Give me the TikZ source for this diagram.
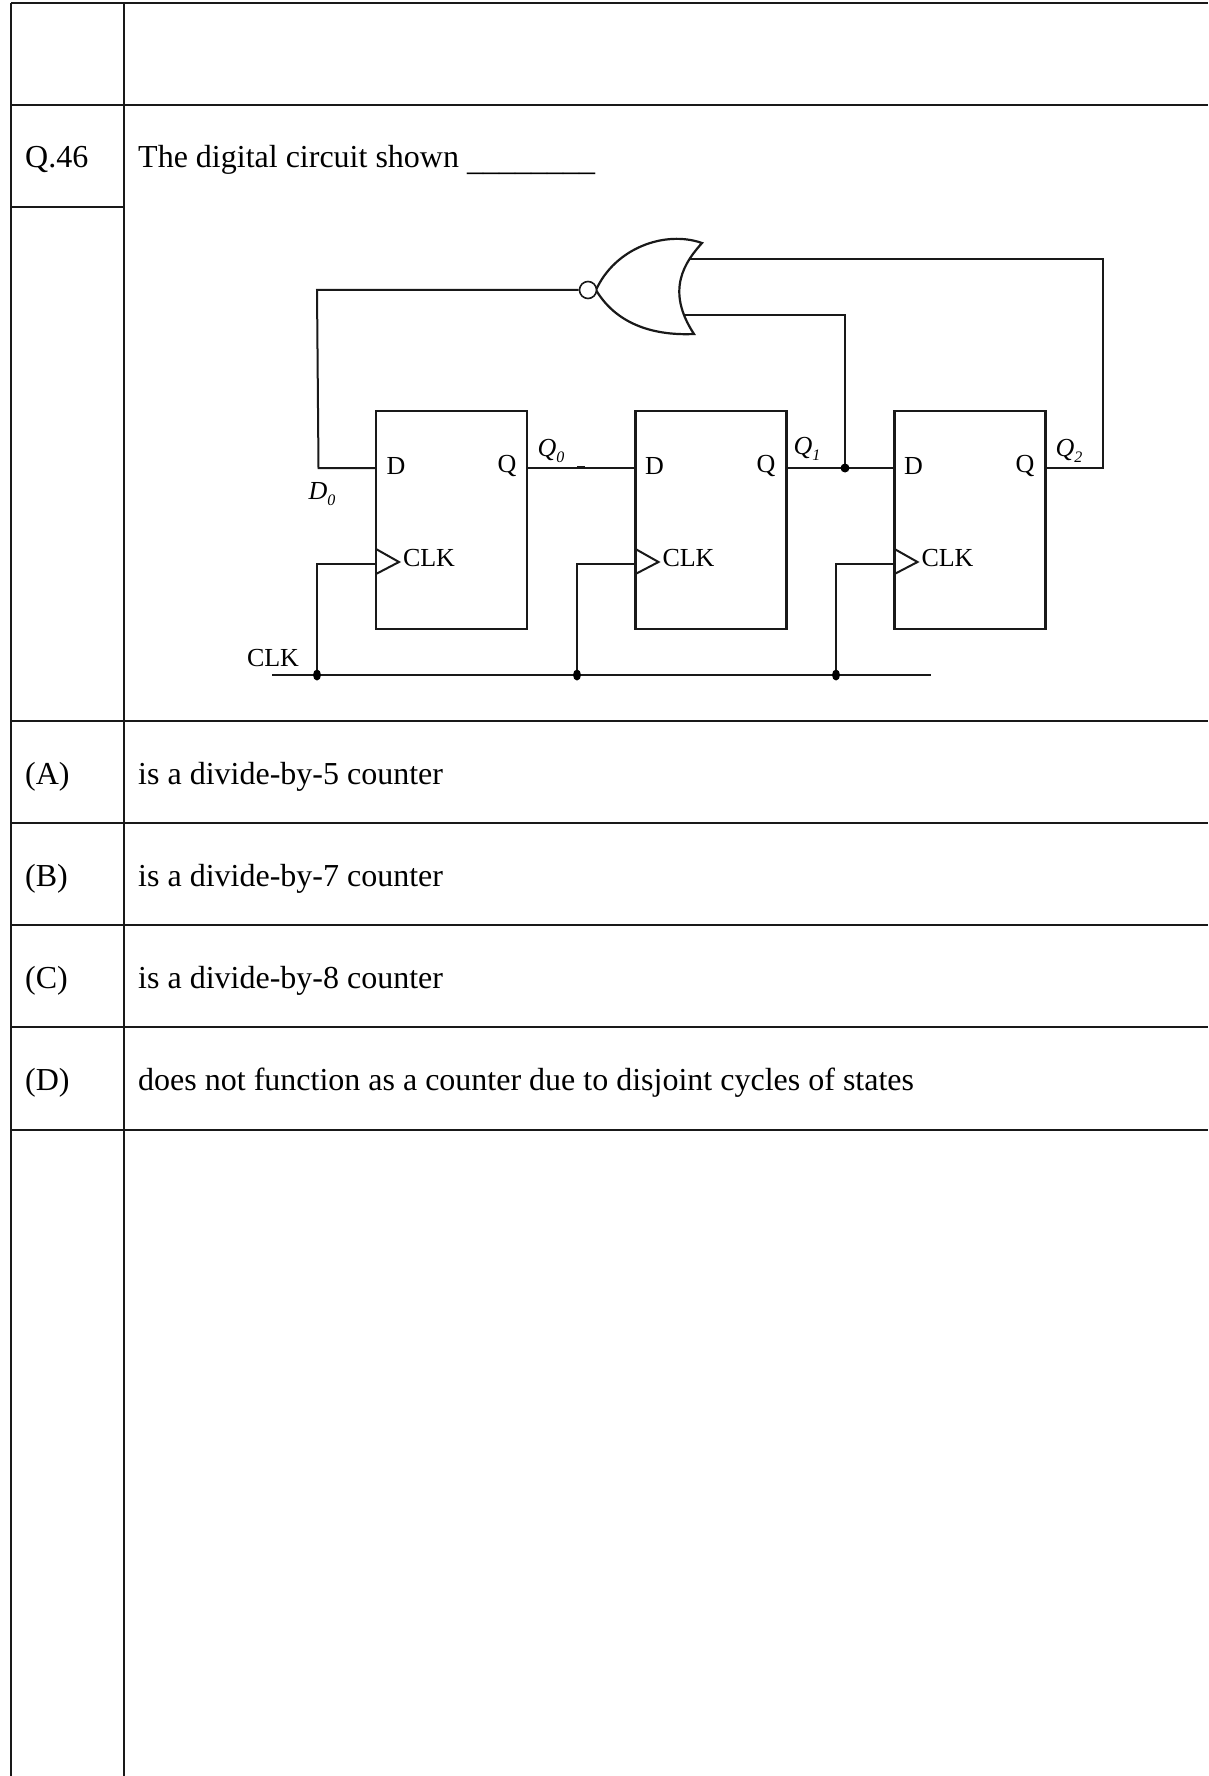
\documentclass[tikz,border=0pt]{standalone}
\usepackage{fontspec}
\setmainfont{Liberation Serif}
\usetikzlibrary{calc,shapes.geometric}
\tikzset{
  x=1pt,y=-1pt,
  rule/.style={line width=2pt,black!90},
  wire/.style={line width=2pt,black!90},
  ffbox/.style={draw=black!90,line width=2.6pt,minimum width=151pt,minimum height=218pt,inner sep=0pt,outer sep=0pt},
  clktri/.style={line width=2pt,black!90,line join=miter},
  gateline/.style={line width=2.2pt,black!90,line join=miter},
  dotj/.style={circle,fill=black,inner sep=0pt,minimum size=9pt},
  dotc/.style={ellipse,fill=black,inner sep=0pt,minimum width=8pt,minimum height=11pt},
  bub/.style={circle,draw=black!90,fill=white,line width=1.6pt,inner sep=0pt,minimum size=17pt},
  tabtext/.style={anchor=base west,inner sep=0pt,font=\fontsize{32}{36}\selectfont},
  pin/.style={inner sep=0pt,font=\fontsize{26}{30}\selectfont},
  sig/.style={inner sep=0pt,font=\fontsize{26}{30}\selectfont\itshape},
}
\newcommand{\smsub}[1]{\raisebox{-0.22em}{\fontsize{16}{18}\selectfont\itshape #1}}
\begin{document}
\begin{tikzpicture}
\useasboundingbox (0,0) rectangle (1208,1776);
% table
\draw[rule] (11,3) -- (1208,3);
\draw[rule] (11,105) -- (1208,105);
\draw[rule] (11,207) -- (124,207);
\draw[rule] (11,720.5) -- (1208,720.5);
\draw[rule] (11,823) -- (1208,823);
\draw[rule] (11,925) -- (1208,925);
\draw[rule] (11,1027) -- (1208,1027);
\draw[rule] (11,1129.5) -- (1208,1129.5);
\draw[rule] (11,3) -- (11,1776);
\draw[rule] (124.3,3) -- (124.3,1776);
% table text
\node[tabtext] (q46) at (25,168) {Q.46};
\node[tabtext] (stem) at (138,168) {The digital circuit shown \raisebox{-2.5pt}{\_\_\_\_\_\_\_\_}};
\node[tabtext] (la) at (25,784) {(A)};
\node[tabtext] (ta) at (138,784) {is a divide-by-5 counter};
\node[tabtext] (lb) at (25,886) {(B)};
\node[tabtext] (tb) at (138,886) {is a divide-by-7 counter};
\node[tabtext] (lc) at (25,988) {(C)};
\node[tabtext] (tc) at (138,988) {is a divide-by-8 counter};
\node[tabtext] (ld) at (25,1090) {(D)};
\node[tabtext] (td) at (138,1090) {does not function as a counter due to disjoint cycles of states};
% flip-flops
\node[ffbox] (ff0) at (451.5,520) {};
\node[ffbox] (ff1) at (711,520) {};
\node[ffbox] (ff2) at (970,520) {};
% pins
\foreach \f/\dx/\qx/\cx in {ff0/396/507/429,ff1/654.5/766/688.5,ff2/913.5/1025/947.5}{
  \node[pin] (\f d) at (\dx,466) {D};
  \node[pin] (\f q) at (\qx,466) {Q};
  \node[pin] (\f c) at (\cx,558) {CLK};
}
% clock triangles
\foreach \f in {ff0,ff1,ff2}{
  \coordinate (\f tt) at ($(\f.west |- 0,549)$);
  \coordinate (\f tb) at ($(\f.west |- 0,574)$);
  \coordinate (\f ti) at ($(\f.west |- 0,562)+(23,0)$);
  \draw[clktri] (\f tt) -- (\f ti) -- (\f tb);
}
% gate
\coordinate (nose) at (596,290);
\coordinate (tipt) at (702,243);
\coordinate (tipb) at (694,334);
\coordinate (back) at (678,290);
\coordinate (in0) at (689,259.5);
\coordinate (in1) at (683,315);
\draw[gateline,fill=white] (nose) .. controls (615,248) and (665,230) .. (tipt)
  .. controls (685,262) and (665,290) .. (tipb)
  .. controls (650,336) and (615,322) .. (nose) -- cycle;
\node[bub] (nb) at (588,290) {};
% junction points
\coordinate (j1) at (845,468);
\coordinate (c0) at (317,675);
\coordinate (c1) at (577,675);
\coordinate (c2) at (836,675);
\coordinate (busL) at (272,675);
\coordinate (busR) at (931,675);
\coordinate (d0top) at (317,290);
\coordinate (d0bot) at (318.5,468);
\coordinate (q2cor) at (1103,468);
\coordinate (q2top) at (1103,259.5);
\coordinate (q1top) at (845,315);
% wires
\draw[wire] (nb.west) -- (d0top) -- (d0bot) -- (d0bot -| ff0.west);
\draw[wire] (ff0.east |- 0,468) -- (ff1.west |- 0,468);
\draw[wire,line width=2.6pt] (577,467.5) -- (585,467.5);
\draw[wire] (ff1.east |- 0,468) -- (ff2.west |- 0,468);
\draw[wire] (j1) -- (q1top) -- (in1);
\draw[wire] (ff2.east |- 0,468) -- (q2cor) -- (q2top) -- (in0);
\draw[wire] (busL) -- (busR);
\draw[wire] (c0) -- (c0 |- 0,564) -- (ff0.west |- 0,564);
\draw[wire] (c1) -- (c1 |- 0,564) -- (ff1.west |- 0,564);
\draw[wire] (c2) -- (c2 |- 0,564) -- (ff2.west |- 0,564);
\node[dotj] (dj) at (j1) {};
\node[dotc] (d0) at (c0) {};
\node[dotc] (d1) at (c1) {};
\node[dotc] (d2) at (c2) {};
% signal labels
\node[sig] (lq0) at (551,451) {Q\smsub{0}};
\node[sig] (lq1) at (807,449) {Q\smsub{1}};
\node[sig] (lq2) at (1069,451) {Q\smsub{2}};
\node[sig] (ld0) at (322,494) {D\smsub{0}};
\node[pin] (lclk) at (273,658) {CLK};
\end{tikzpicture}
\end{document}
